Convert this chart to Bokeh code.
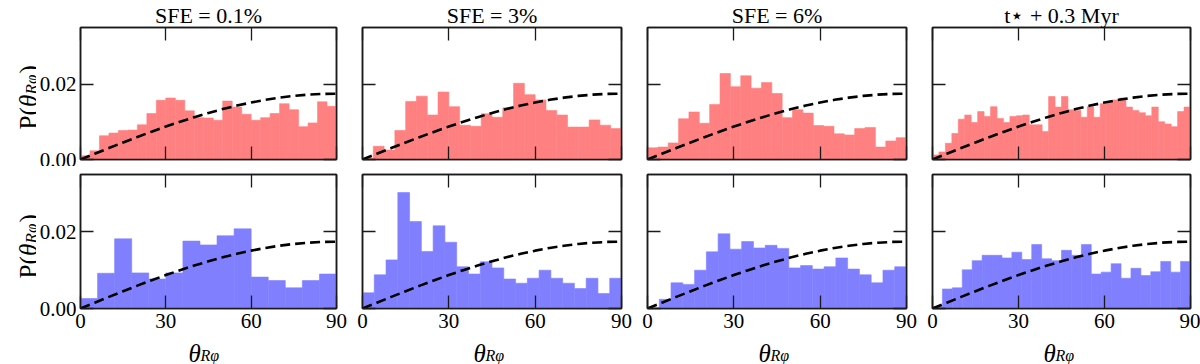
import numpy as np
from bokeh.plotting import figure
from bokeh.models import Range1d, FixedTicker, LinearAxis, PrintfTickFormatter, CustomJSTickFormatter, Title
from bokeh.layouts import row, column
from bokeh.embed import file_html
from bokeh.resources import INLINE
from bokeh.core.properties import value

# ---------------- data ----------------
titles = ["SFE = 0.1%", "SFE = 3%", "SFE = 6%", "t⋆ + 0.3 Myr"]
x_ticks = [0, 30, 60, 90]
y_ticks = [0.0, 0.02]

# top row (red): histogram heights, bins spread evenly over 0-90 deg
red_sfe01 = [0.0010, 0.0023, 0.0063, 0.0070, 0.0077, 0.0078, 0.0092, 0.0122, 0.0157,
             0.0163, 0.0157, 0.0129, 0.0111, 0.0110, 0.0104, 0.0155, 0.0139, 0.0120,
             0.0104, 0.0111, 0.0122, 0.0148, 0.0132, 0.0087, 0.0097, 0.0153, 0.0141]
red_sfe3 = [0.0004, 0.0035, 0.0025, 0.0077, 0.0154, 0.0168, 0.0118, 0.0179, 0.0140,
            0.0091, 0.0088, 0.0121, 0.0112, 0.0137, 0.0202, 0.0172, 0.0158, 0.0130,
            0.0118, 0.0086, 0.0086, 0.0105, 0.0091, 0.0082]
red_sfe6 = [0.0031, 0.0033, 0.0044, 0.0108, 0.0126, 0.0096, 0.0146, 0.0228, 0.0193,
            0.0222, 0.0189, 0.0204, 0.0175, 0.0111, 0.0132, 0.0123, 0.0090, 0.0088,
            0.0068, 0.0065, 0.0082, 0.0085, 0.0033, 0.0049, 0.0058]
red_tstar = [0.0012, 0.0020, 0.0043, 0.0069, 0.0107, 0.0118, 0.0098, 0.0127, 0.0114,
             0.0140, 0.0109, 0.0098, 0.0114, 0.0116, 0.0118, 0.0092, 0.0092, 0.0074,
             0.0167, 0.0139, 0.0167, 0.0132, 0.0130, 0.0112, 0.0140, 0.0112, 0.0148,
             0.0154, 0.0158, 0.0163, 0.0139, 0.0130, 0.0124, 0.0116, 0.0139, 0.0100,
             0.0094, 0.0087, 0.0127, 0.0139]

# bottom row (blue)
blue_sfe01 = [0.0026, 0.0092, 0.0182, 0.0093, 0.0077, 0.0093, 0.0176, 0.0166, 0.0190,
              0.0208, 0.0082, 0.0073, 0.0054, 0.0073, 0.0090]
blue_sfe3 = [0.0041, 0.0088, 0.0127, 0.0303, 0.0227, 0.0149, 0.0216, 0.0173, 0.0109,
             0.0090, 0.0122, 0.0106, 0.0077, 0.0066, 0.0079, 0.0100, 0.0079, 0.0066,
             0.0052, 0.0079, 0.0039, 0.0079]
blue_sfe6 = [0.0000, 0.0024, 0.0067, 0.0063, 0.0100, 0.0148, 0.0195, 0.0155, 0.0175,
             0.0158, 0.0165, 0.0157, 0.0106, 0.0112, 0.0103, 0.0109, 0.0132, 0.0103,
             0.0088, 0.0067, 0.0100, 0.0109]
blue_tstar = [0.0005, 0.0051, 0.0054, 0.0101, 0.0125, 0.0139, 0.0139, 0.0132, 0.0147,
              0.0128, 0.0167, 0.0130, 0.0125, 0.0152, 0.0139, 0.0167, 0.0090, 0.0095,
              0.0117, 0.0079, 0.0105, 0.0086, 0.0096, 0.0123, 0.0095, 0.0123]

# dashed reference curve
curve_theta = [0, 5, 10, 15, 20, 25, 30, 35, 40, 45, 50, 55, 60, 65, 70, 75, 80, 85, 90]
curve_p = [0.0, 0.00152, 0.00303, 0.00452, 0.00597, 0.00738, 0.00873, 0.01001, 0.01122,
           0.01234, 0.01337, 0.01430, 0.01511, 0.01582, 0.01640, 0.01686, 0.01719,
           0.01739, 0.01745]

top_series = [red_sfe01, red_sfe3, red_sfe6, red_tstar]
bottom_series = [blue_sfe01, blue_sfe3, blue_sfe6, blue_tstar]

# ---------------- style / layout ----------------
XMAX, YMAX = 90.0, 0.035
FONT = "Liberation Serif"
INK = "#1a1a1a"
RED = "#ff8080"
BLUE = "#8080ff"

FRAME_W = [259, 259, 259, 258]
LEFT_B = [41, 13, 13, 13]
RIGHT_B = [13, 13, 13, 10]
FRAME_H = 134
LSTRIP = 36          # strip holding the rotated y labels
XSTRIP = 24          # strip holding the x labels
TOTAL_H = 364
FRAME_LEFT = [LSTRIP + sum(LEFT_B[:i + 1]) + sum(FRAME_W[:i]) + sum(RIGHT_B[:i]) for i in range(4)]


def style_axis(ax, ticks, show, standoff=4, fmt=None):
    ax.ticker = FixedTicker(ticks=ticks, minor_ticks=[])
    ax.major_tick_in = 13
    ax.major_tick_out = 0
    ax.minor_tick_in = 0
    ax.minor_tick_out = 0
    ax.major_tick_line_color = INK
    ax.major_tick_line_width = 1.3
    ax.axis_line_color = INK
    ax.axis_line_width = 1.5
    if show:
        if fmt is not None:
            ax.formatter = fmt
        ax.major_label_text_font = FONT
        ax.major_label_text_font_size = "21px"
        ax.major_label_text_color = "black"
        ax.major_label_standoff = standoff
    else:
        ax.formatter = CustomJSTickFormatter(code="return ''")
        ax.major_label_text_font_size = "1px"
        ax.major_label_text_color = None
        ax.major_label_standoff = 0


def make(r, c, heights, color):
    left, right, fw = LEFT_B[c], RIGHT_B[c], FRAME_W[c]
    top = 25 if r == 0 else 8
    bottom = 7 if r == 0 else 32
    p = figure(width=left + fw + right, height=top + FRAME_H + bottom, title=None,
               x_range=Range1d(0, XMAX), y_range=Range1d(0, YMAX),
               output_backend="svg", toolbar_location=None,
               x_axis_location=None, y_axis_location=None,
               min_border_left=left, min_border_right=right,
               min_border_top=top, min_border_bottom=bottom)
    p.grid.visible = False
    p.outline_line_color = INK
    p.outline_line_width = 1.5
    p.background_fill_color = "white"
    p.border_fill_color = "white"

    n = len(heights)
    edges = np.linspace(0, XMAX, n + 1)
    p.quad(left=edges[:-1], right=edges[1:], bottom=0, top=heights,
           fill_color=color, line_color=color, line_width=0.6)
    p.line(curve_theta, curve_p, line_color="black", line_width=2.6, line_dash="10 5")

    below = LinearAxis()
    style_axis(below, x_ticks, r == 1, standoff=5)
    p.add_layout(below, "below")
    above = LinearAxis()
    style_axis(above, x_ticks, False)
    p.add_layout(above, "above")
    leftax = LinearAxis()
    style_axis(leftax, y_ticks, c == 0, standoff=4, fmt=PrintfTickFormatter(format="%.2f"))
    p.add_layout(leftax, "left")
    rightax = LinearAxis()
    style_axis(rightax, y_ticks, False)
    p.add_layout(rightax, "right")

    if r == 0:
        p.add_layout(Title(text=titles[c], align="center", text_font=FONT,
                           text_font_size="22px", text_font_style="normal",
                           text_color="black", standoff=0, offset=0), "above")
    return p


def strip(w, h, x0):
    s = figure(width=w, height=h, title=None,
               x_range=Range1d(x0, x0 + w), y_range=Range1d(0, h),
               output_backend="svg", toolbar_location=None,
               x_axis_location=None, y_axis_location=None,
               min_border_left=0, min_border_right=0, min_border_top=0, min_border_bottom=0)
    s.grid.visible = False
    s.outline_line_color = None
    s.background_fill_color = "white"
    s.border_fill_color = "white"
    return s


def txt(s, x, y, t, size, italic=False, angle=0.0, align="left"):
    s.text(x=[x], y=[y], text=[t], angle=angle,
           text_font=value(FONT), text_font_size=value(f"{size}px"),
           text_font_style=value("italic" if italic else "normal"),
           text_align=value(align), text_baseline=value("alphabetic"),
           text_color="black")


# ---- left strip: y labels P(θ_Rφ), rotated, page coordinates ----
left_strip = strip(LSTRIP, TOTAL_H, 0)
for page_start in (129, 278):          # bottom end of the label, page y
    rot = np.pi / 2
    y = TOTAL_H - page_start
    txt(left_strip, 27.5, y, "P(", 25, angle=rot)
    txt(left_strip, 27.5, y + 22.5, "θ", 25, italic=True, angle=rot)
    txt(left_strip, 30.5, y + 35, "Rφ", 17, italic=True, angle=rot)
    txt(left_strip, 27.5, y + 56, ")", 25, angle=rot)

MID_W = 1200 - LSTRIP

# ---- x label strip ----
x_strip = strip(MID_W, XSTRIP, LSTRIP)
for c in range(4):
    fx = FRAME_LEFT[c]
    txt(x_strip, fx + 111, XSTRIP - 13, "θ", 25, italic=True)
    txt(x_strip, fx + 123, XSTRIP - 15, "Rφ", 16, italic=True)

top_row = [make(0, c, top_series[c], RED) for c in range(4)]
bottom_row = [make(1, c, bottom_series[c], BLUE) for c in range(4)]
layout = row(left_strip, column(row(*top_row), row(*bottom_row), x_strip))

open("out.html", "w").write(file_html(layout, INLINE))
